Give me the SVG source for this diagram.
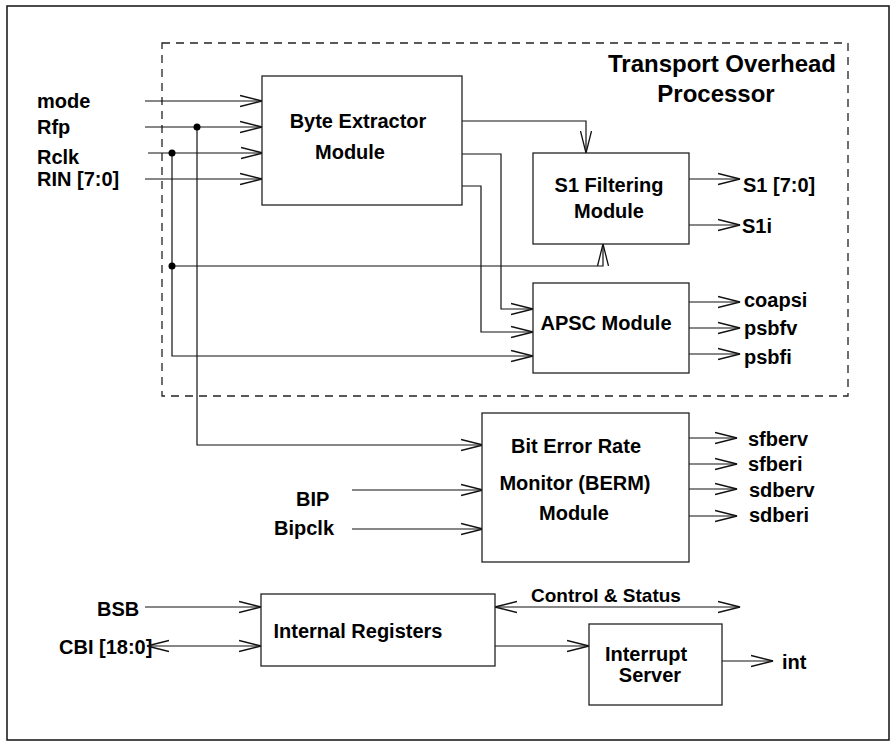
<svg xmlns="http://www.w3.org/2000/svg" width="894" height="742" viewBox="0 0 894 742">
<defs>
<style>
text{font-family:"Liberation Sans",Arial,Helvetica,sans-serif;font-weight:bold;font-size:20px;fill:#000}
.title{font-size:24px}
.small{font-size:19px}
.box{fill:#fff;stroke:#222;stroke-width:1.3}
.wire{fill:none;stroke:#111;stroke-width:1.2}
.dot{fill:#000}
</style>
<marker id="arr" markerUnits="userSpaceOnUse" markerWidth="26" markerHeight="14" refX="22" refY="7" orient="auto-start-reverse" viewBox="0 0 26 14">
<path d="M0 1.5 L22 7 L0 12.5" fill="none" stroke="#111" stroke-width="1.3"/>
</marker>
</defs>
<rect width="894" height="742" fill="#fff"/>
<rect x="7" y="6" width="882" height="734" fill="none" stroke="#111" stroke-width="1.5"/>
<g id="top-boundary">
<rect x="162" y="43" width="686" height="353" fill="none" stroke="#222" stroke-width="1.3" stroke-dasharray="8 6"/>
<text class="title" x="722" y="72" text-anchor="middle">Transport Overhead</text>
<text class="title" x="716" y="102" text-anchor="middle">Processor</text>
</g>
<g id="labels">
<text x="37" y="108">mode</text>
<text x="37" y="134">Rfp</text>
<text x="37" y="164">Rclk</text>
<text x="37" y="186">RIN [7:0]</text>
<text x="743" y="192">S1 [7:0]</text>
<text x="742" y="233">S1i</text>
<text x="744" y="307">coapsi</text>
<text x="744" y="335">psbfv</text>
<text x="744" y="364">psbfi</text>
<text x="748" y="446">sfberv</text>
<text x="748" y="471">sfberi</text>
<text x="749" y="497">sdberv</text>
<text x="749" y="522">sdberi</text>
<text x="296" y="506">BIP</text>
<text x="274" y="535">Bipclk</text>
<text x="97" y="616">BSB</text>
<text x="59" y="654">CBI [18:0]</text>
<text class="small" x="531" y="602">Control &amp; Status</text>
<text x="782" y="669">int</text>
</g>
<g id="connectors">
<line class="wire" x1="145" y1="101" x2="262" y2="101" marker-end="url(#arr)"/>
<line class="wire" x1="145" y1="127" x2="262" y2="127" marker-end="url(#arr)"/>
<line class="wire" x1="148" y1="153" x2="263" y2="153" marker-end="url(#arr)"/>
<line class="wire" x1="145" y1="179" x2="262" y2="179" marker-end="url(#arr)"/>
<polyline class="wire" points="197,127 197,445 483,445" marker-end="url(#arr)"/>
<polyline class="wire" points="172,153 172,356 533,356" marker-end="url(#arr)"/>
<polyline class="wire" points="172,266 603,266 603,244" marker-end="url(#arr)"/>
<circle class="dot" cx="197" cy="127" r="3.5"/>
<circle class="dot" cx="172" cy="153" r="3.5"/>
<circle class="dot" cx="172" cy="266" r="3.5"/>
<polyline class="wire" points="462,121 586,121 586,153" marker-end="url(#arr)"/>
<polyline class="wire" points="462,154 501,154 501,309 533,309" marker-end="url(#arr)"/>
<polyline class="wire" points="462,186 481,186 481,332 533,332" marker-end="url(#arr)"/>
<line class="wire" x1="689" y1="179" x2="740" y2="179" marker-end="url(#arr)"/>
<line class="wire" x1="689" y1="225" x2="740" y2="225" marker-end="url(#arr)"/>
<line class="wire" x1="689" y1="302" x2="740" y2="302" marker-end="url(#arr)"/>
<line class="wire" x1="689" y1="328" x2="740" y2="328" marker-end="url(#arr)"/>
<line class="wire" x1="689" y1="354" x2="740" y2="354" marker-end="url(#arr)"/>
<line class="wire" x1="689" y1="438" x2="737" y2="438" marker-end="url(#arr)"/>
<line class="wire" x1="689" y1="464" x2="737" y2="464" marker-end="url(#arr)"/>
<line class="wire" x1="689" y1="489" x2="737" y2="489" marker-end="url(#arr)"/>
<line class="wire" x1="689" y1="516" x2="737" y2="516" marker-end="url(#arr)"/>
<line class="wire" x1="352" y1="490" x2="483" y2="490" marker-end="url(#arr)"/>
<line class="wire" x1="352" y1="529" x2="483" y2="529" marker-end="url(#arr)"/>
<line class="wire" x1="145" y1="607" x2="261" y2="607" marker-end="url(#arr)"/>
<line class="wire" x1="147" y1="646" x2="261" y2="646" marker-start="url(#arr)" marker-end="url(#arr)"/>
<line class="wire" x1="495" y1="607" x2="740" y2="607" marker-start="url(#arr)" marker-end="url(#arr)"/>
<line class="wire" x1="495" y1="646" x2="589" y2="646" marker-end="url(#arr)"/>
<line class="wire" x1="722" y1="661" x2="773" y2="661" marker-end="url(#arr)"/>
</g>
<g id="byte-extractor">
<rect class="box" x="262" y="76" width="200" height="129"/>
<text x="358" y="128" text-anchor="middle">Byte Extractor</text>
<text x="350" y="159" text-anchor="middle">Module</text>
</g>
<g id="s1-filtering">
<rect class="box" x="533" y="153" width="156" height="91"/>
<text x="609" y="192" text-anchor="middle">S1 Filtering</text>
<text x="609" y="218" text-anchor="middle">Module</text>
</g>
<g id="apsc">
<rect class="box" x="533" y="283" width="156" height="90"/>
<text x="606" y="330" text-anchor="middle">APSC Module</text>
</g>
<g id="berm">
<rect class="box" x="482" y="413" width="207" height="149"/>
<text x="576" y="453" text-anchor="middle">Bit Error Rate</text>
<text x="575" y="490" text-anchor="middle">Monitor (BERM)</text>
<text x="574" y="520" text-anchor="middle">Module</text>
</g>
<g id="internal-registers">
<rect class="box" x="261" y="594" width="234" height="72"/>
<text x="358" y="638" text-anchor="middle">Internal Registers</text>
</g>
<g id="interrupt-server">
<rect class="box" x="589" y="624" width="133" height="81"/>
<text x="646" y="661" text-anchor="middle">Interrupt</text>
<text x="650" y="682" text-anchor="middle">Server</text>
</g>
</svg>
